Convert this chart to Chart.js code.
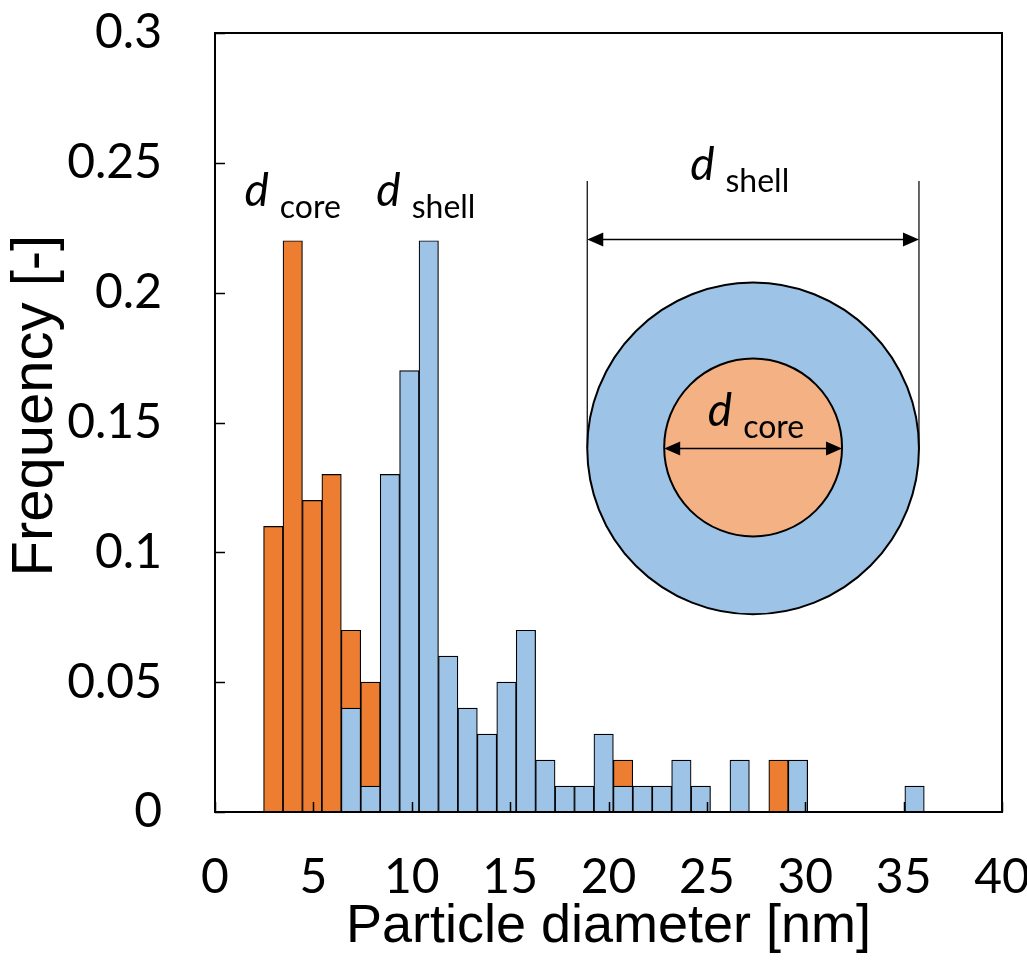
<!DOCTYPE html>
<html>
<head>
<meta charset="utf-8">
<title>Particle diameter distribution</title>
<script src="https://cdn.jsdelivr.net/npm/chart.js@4.4.1/dist/chart.umd.min.js"></script>
<style>
  html, body { margin: 0; padding: 0; background: #fff; }
  #wrap { width: 1027px; height: 960px; }
</style>
</head>
<body>
<div id="wrap"><canvas id="histChart" width="1027" height="960"></canvas></div>
<script>
// Histogram bins (nm) with the frequency of core and shell diameters
const diameters = [3, 4, 5, 6, 7, 8, 9, 10, 11, 12, 13, 14, 15, 16, 17, 18, 19, 20,
                   21, 22, 23, 24, 25, 26, 27, 28, 29, 30, 31, 32, 33, 34, 35, 36];
const coreFreq  = [0.11, 0.22, 0.12, 0.13, 0.07, 0.05, 0, 0, 0, 0, 0, 0, 0, 0, 0, 0, 0, 0,
                   0.02, 0, 0, 0, 0, 0, 0, 0, 0.02, 0, 0, 0, 0, 0, 0, 0];
const shellFreq = [0, 0, 0, 0, 0.04, 0.01, 0.13, 0.17, 0.22, 0.06, 0.04, 0.03, 0.05, 0.07, 0.02, 0.01, 0.01, 0.03,
                   0.01, 0.01, 0.01, 0.02, 0.01, 0, 0.02, 0, 0, 0.02, 0, 0, 0, 0, 0, 0.01];
const xTickLabels = ['0', '5', '10', '15', '20', '25', '30', '35', '40'];
const yTickLabels = ['0', '0.05', '0.1', '0.15', '0.2', '0.25', '0.3'];

const ORANGE = '#ED7D31';
const BLUE = '#9DC3E6';
const LIGHT_ORANGE = '#F4B183';
const TICK_FONT = 'Lato, "Open Sans", sans-serif';
const TITLE_FONT = '"Liberation Sans", Arial, sans-serif';

// "d" in italics followed by a lowered subscript
function drawSubLabel(ctx, x, y, sub) {
  ctx.save();
  ctx.fillStyle = '#000';
  ctx.textAlign = 'left';
  ctx.textBaseline = 'alphabetic';
  ctx.font = 'italic 46px ' + TICK_FONT;
  ctx.fillText('d', x, y);
  const w = ctx.measureText('d').width;
  ctx.font = '32px ' + TICK_FONT;
  ctx.fillText(sub, x + w + 11, y + 12);
  ctx.restore();
}

function drawArrow(ctx, x1, x2, y) {
  const len = 16, half = 7;
  ctx.beginPath();
  ctx.moveTo(x1 + len - 2, y);
  ctx.lineTo(x2 - len + 2, y);
  ctx.stroke();
  ctx.beginPath();
  ctx.moveTo(x1, y);
  ctx.lineTo(x1 + len, y - half);
  ctx.lineTo(x1 + len, y + half);
  ctx.closePath();
  ctx.moveTo(x2, y);
  ctx.lineTo(x2 - len, y - half);
  ctx.lineTo(x2 - len, y + half);
  ctx.closePath();
  ctx.fill();
}

// keep the plot box fixed: no extra room for overhanging tick labels
function noOverhang(s) {
  s.paddingLeft = 0;
  s.paddingRight = 0;
  s.paddingTop = 0;
  s.paddingBottom = 0;
}

// frame round the plot, inward tick marks and the vertical axis title
const frameTicks = {
  id: 'frameTicks',
  afterDatasetsDraw(chart) {
    const {ctx, chartArea: a, scales: {x, y}} = chart;
    ctx.save();
    ctx.strokeStyle = '#000';
    ctx.lineWidth = 1.5;
    ctx.beginPath();
    x.ticks.forEach(t => {
      const px = Math.round(x.getPixelForValue(t.value)) + 0.5;
      ctx.moveTo(px, a.bottom);
      ctx.lineTo(px, a.bottom - 10);
    });
    y.ticks.forEach(t => {
      const py = Math.round(y.getPixelForValue(t.value)) + 0.5;
      ctx.moveTo(a.left, py);
      ctx.lineTo(a.left + 10, py);
    });
    ctx.stroke();
    ctx.lineWidth = 2;
    ctx.strokeRect(a.left, a.top, a.right - a.left, a.bottom - a.top);

    ctx.translate(36, y.getPixelForValue(0.1565));
    ctx.rotate(-Math.PI / 2);
    ctx.fillStyle = '#000';
    ctx.font = '58px ' + TITLE_FONT;
    ctx.textAlign = 'center';
    ctx.textBaseline = 'middle';
    ctx.fillText('Frequency [-]', 0, 0);
    ctx.restore();
  }
};

// core-shell sketch and the d labels over the peaks
const sketch = {
  id: 'sketch',
  afterDraw(chart) {
    const {ctx, scales: {x, y}} = chart;
    const cx = x.getPixelForValue(27.35);
    const cy = y.getPixelForValue(0.14);
    const rOuter = x.getPixelForValue(8.43) - x.getPixelForValue(0);
    const rInner = x.getPixelForValue(4.52) - x.getPixelForValue(0);
    const lineTop = y.getPixelForValue(0.243);
    const arrowY = y.getPixelForValue(0.2205);

    ctx.save();
    ctx.strokeStyle = '#000';
    ctx.fillStyle = '#000';

    ctx.lineWidth = 1.2;
    ctx.beginPath();
    ctx.moveTo(cx - rOuter, lineTop);
    ctx.lineTo(cx - rOuter, cy);
    ctx.moveTo(cx + rOuter, lineTop);
    ctx.lineTo(cx + rOuter, cy);
    ctx.stroke();

    ctx.lineWidth = 2;
    ctx.beginPath();
    ctx.arc(cx, cy, rOuter, 0, Math.PI * 2);
    ctx.fillStyle = BLUE;
    ctx.fill();
    ctx.stroke();
    ctx.beginPath();
    ctx.arc(cx, cy - 1, rInner, 0, Math.PI * 2);
    ctx.fillStyle = LIGHT_ORANGE;
    ctx.fill();
    ctx.stroke();

    ctx.fillStyle = '#000';
    ctx.lineWidth = 1.5;
    drawArrow(ctx, cx - rOuter, cx + rOuter, arrowY);
    drawArrow(ctx, cx - rInner, cx + rInner, cy);
    ctx.restore();

    drawSubLabel(ctx, x.getPixelForValue(24.15), y.getPixelForValue(0.2435), 'shell');
    drawSubLabel(ctx, x.getPixelForValue(25.05), y.getPixelForValue(0.1485), 'core');
    drawSubLabel(ctx, x.getPixelForValue(1.5), y.getPixelForValue(0.2335), 'core');
    drawSubLabel(ctx, x.getPixelForValue(8.2), y.getPixelForValue(0.2335), 'shell');
  }
};

const ctx = document.getElementById('histChart').getContext('2d');
const histChart = new Chart(ctx, {
  type: 'bar',
  data: {
    labels: diameters,
    datasets: [
      {
        label: 'd core',
        data: coreFreq,
        xAxisID: 'bins',
        backgroundColor: ORANGE,
        borderColor: '#000',
        borderWidth: 1.2,
        borderSkipped: false,
        grouped: false,
        barPercentage: 1,
        categoryPercentage: 1,
        order: 2,
      },
      {
        label: 'd shell',
        data: shellFreq,
        xAxisID: 'bins',
        backgroundColor: BLUE,
        borderColor: '#000',
        borderWidth: 1.2,
        borderSkipped: false,
        grouped: false,
        barPercentage: 1,
        categoryPercentage: 1,
        order: 1,
      },
    ],
  },
  options: {
    responsive: false,
    animation: false,
    layout: { padding: { top: 33, right: 25, left: 0, bottom: 0 } },
    plugins: {
      legend: { display: false },
      tooltip: { enabled: false },
    },
    scales: {
      bins: {
        type: 'linear',
        position: 'bottom',
        display: false,
        offset: false,
        min: 0,
        max: 40.5,
      },
      x: {
        type: 'linear',
        position: 'bottom',
        min: 0,
        max: 40,
        offset: false,
        afterFit: s => { s.height = 148; noOverhang(s); },
        grid: { display: false, drawTicks: false },
        border: { display: false },
        ticks: {
          stepSize: 5,
          padding: 37,
          color: '#000',
          font: { family: TICK_FONT, size: 48 },
          callback: (v, i) => xTickLabels[i],
        },
        title: {
          display: true,
          text: 'Particle diameter [nm]',
          color: '#000',
          font: { family: TITLE_FONT, size: 54 },
          padding: { top: 0, bottom: 0 },
        },
      },
      y: {
        type: 'linear',
        min: 0,
        max: 0.3,
        afterFit: s => { s.width = 215; noOverhang(s); },
        grid: { display: false, drawTicks: false },
        border: { display: false },
        ticks: {
          stepSize: 0.05,
          padding: 53,
          color: '#000',
          font: { family: TICK_FONT, size: 48 },
          callback: (v, i) => yTickLabels[i],
        },
        title: { display: false },
      },
    },
  },
  plugins: [frameTicks, sketch],
});
</script>
</body>
</html>
